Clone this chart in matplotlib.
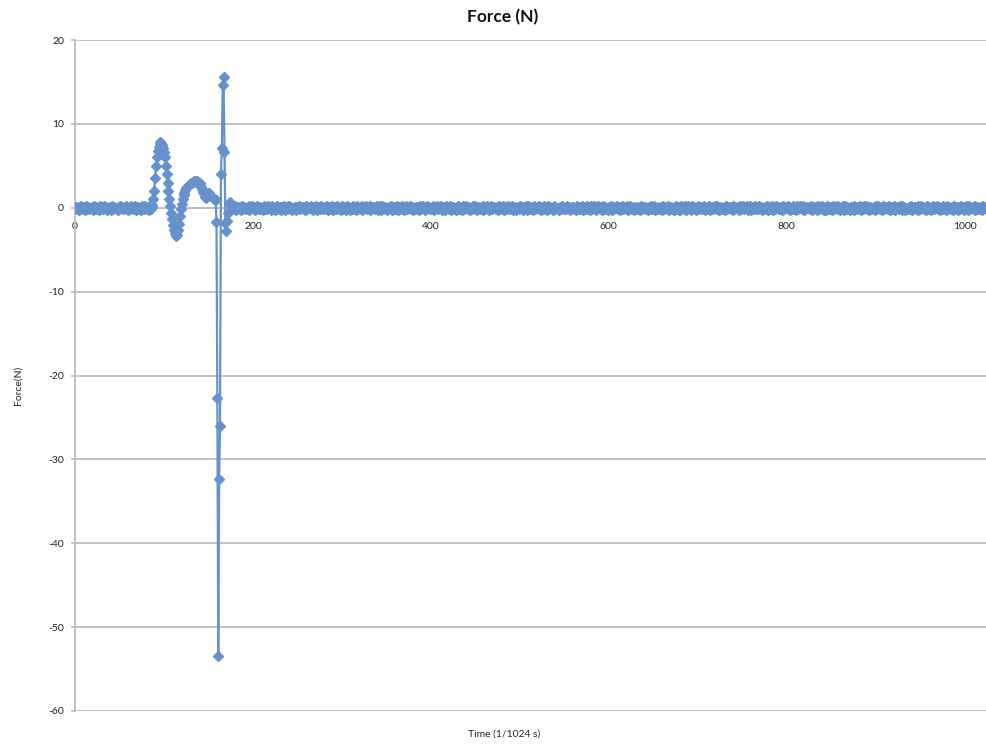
import numpy as np
import matplotlib
matplotlib.use("Agg")
import matplotlib.pyplot as plt

# Sample index (1/1024 s) and measured force
n_samples = 1024

# Baseline sensor readings, one digit per sample: force = (digit - 4) * 0.12 N
baseline_digits = """
45342536 43526345 34452634 53426354 36452435 42635443 25364534 46352436
53462435 34265346 43526354 24536452 35426345 64352435 43625346 35242635
46352453 52436345 34625436 45342563 53624354 26453462 35436245 43526354
34526346 45236453 53426354 36452634 42563452 35462436 64352435 25346354
53426345 46352436 24536453 45362435 36245346 53426354 42635243 36452634
45263546 34526354 53462436 26345342 45362453 34625436 53246354 46352435
35426346 52436453 43625346 34562435 26453462 45342563 35426354 64352436
46352453 34265346 52436345 43526354 36245436 53462435 24536452 45362634
53426345 46352436 35246354 42635443 25364534 36452435 53426354 34625346
34526346 45236453 26345342 53624354 46352436 35436245 64352435 43526354
45342536 53462435 34452634 45362453 42563452 26453462 36452634 53246354
53462435 36245346 46352453 34526354 53426354 45263546 35462436 24536453
36452435 43625346 52436453 35426345 46352436 34265346 53624354 45362435
45263546 35242635 43526354 64352436 26345342 53426345 34625436 46352453
34526346 53426354 45362453 36245436 42635243 35436245 53462436 45342563
53246354 46352436 35426354 43526345 24536452 36452634 45362435 34526354
"""

# Impact event, starting at sample 87
event_start = 87
event_force = [
    0.3, 1.0, 2.0, 3.5, 5.0, 6.0, 6.8, 7.3, 7.6, 7.8,
    7.7, 7.5, 7.1, 6.6, 6.0, 5.0, 4.0, 3.0, 2.0, 1.0,
    0.2, -0.6, -1.4, -2.1, -2.6, -3.0, -3.3, -3.4, -3.2, -2.7,
    -1.9, -1.0, -0.2, 0.5, 1.0, 1.5, 1.8, 2.1, 2.3, 2.5,
    2.6, 2.7, 2.8, 2.9, 3.0, 3.0, 3.1, 3.2, 3.2, 3.1,
    3.2, 3.1, 3.0, 2.9, 2.7, 2.5, 2.2, 1.9, 1.6, 1.3,
    1.2, 1.4, 1.7, 1.8, 1.7, 1.5, 1.4, 1.3, 1.2, 1.0,
    1.1, 0.9, -1.7, -22.7, -53.4, -32.3, -26.0, 4.0, 7.1, 14.6,
    15.6, 6.6, -1.8, -2.8, -1.6, -0.6, 0.4, 0.7, 0.5, 0.2,
    -0.1, 0.1,
]

x_ticks = [0, 200, 400, 600, 800, 1000]
y_ticks = [-60, -50, -40, -30, -20, -10, 0, 10, 20]

digits = "".join(baseline_digits.split())
time = np.arange(n_samples)
force = (np.array([int(c) for c in digits[:n_samples]], dtype=float) - 4) * 0.12
force[event_start:event_start + len(event_force)] = event_force

plt.rcParams["font.family"] = ["Lato", "DejaVu Sans"]
plt.rcParams["axes.unicode_minus"] = False
line_color = "#6591CC"
grid_color = "#BDBDBD"
text_color = "#222222"

W, H = 987, 744
fig = plt.figure(figsize=(W / 100, H / 100), dpi=100)
ax = fig.add_axes([75 / W, 1 - 711 / H, (987 - 75) / W, (711 - 40) / H])

ax.plot(time, force, color=line_color, lw=1.6, marker="D", ms=4.6,
        mec=line_color, mfc=line_color, zorder=3)

for side in ("top", "right"):
    ax.spines[side].set_visible(False)
ax.spines["left"].set_color(grid_color)
ax.spines["left"].set_linewidth(1.3)
ax.spines["bottom"].set_position(("data", 0))
ax.spines["bottom"].set_color(grid_color)
ax.spines["bottom"].set_linewidth(1.3)

ax.set_xlim(0, 1025)
ax.set_ylim(-60, 20)
ax.set_xticks(x_ticks)
ax.set_yticks(y_ticks)

ax.yaxis.grid(True, color=grid_color, lw=1.3, zorder=0)
ax.set_axisbelow(True)

ax.tick_params(axis="y", length=3, width=1.2, color=grid_color, pad=5,
               labelcolor=text_color, labelsize=7.5)
ax.tick_params(axis="x", length=0, pad=10, labelcolor=text_color,
               labelsize=7.5)

fig.text(503 / W, 1 - 17 / H, "Force (N)", ha="center", va="center",
         fontweight="bold", fontsize=12.5, color="#111111")
fig.text(504 / W, 1 - 734 / H, "Time (1/1024 s)", ha="center", va="center",
         fontsize=7.5, color=text_color)
fig.text(18 / W, 1 - 385 / H, "Force(N)", ha="center", va="center",
         rotation=90, fontsize=7.5, color=text_color)

fig.savefig("out.png", dpi=100)
